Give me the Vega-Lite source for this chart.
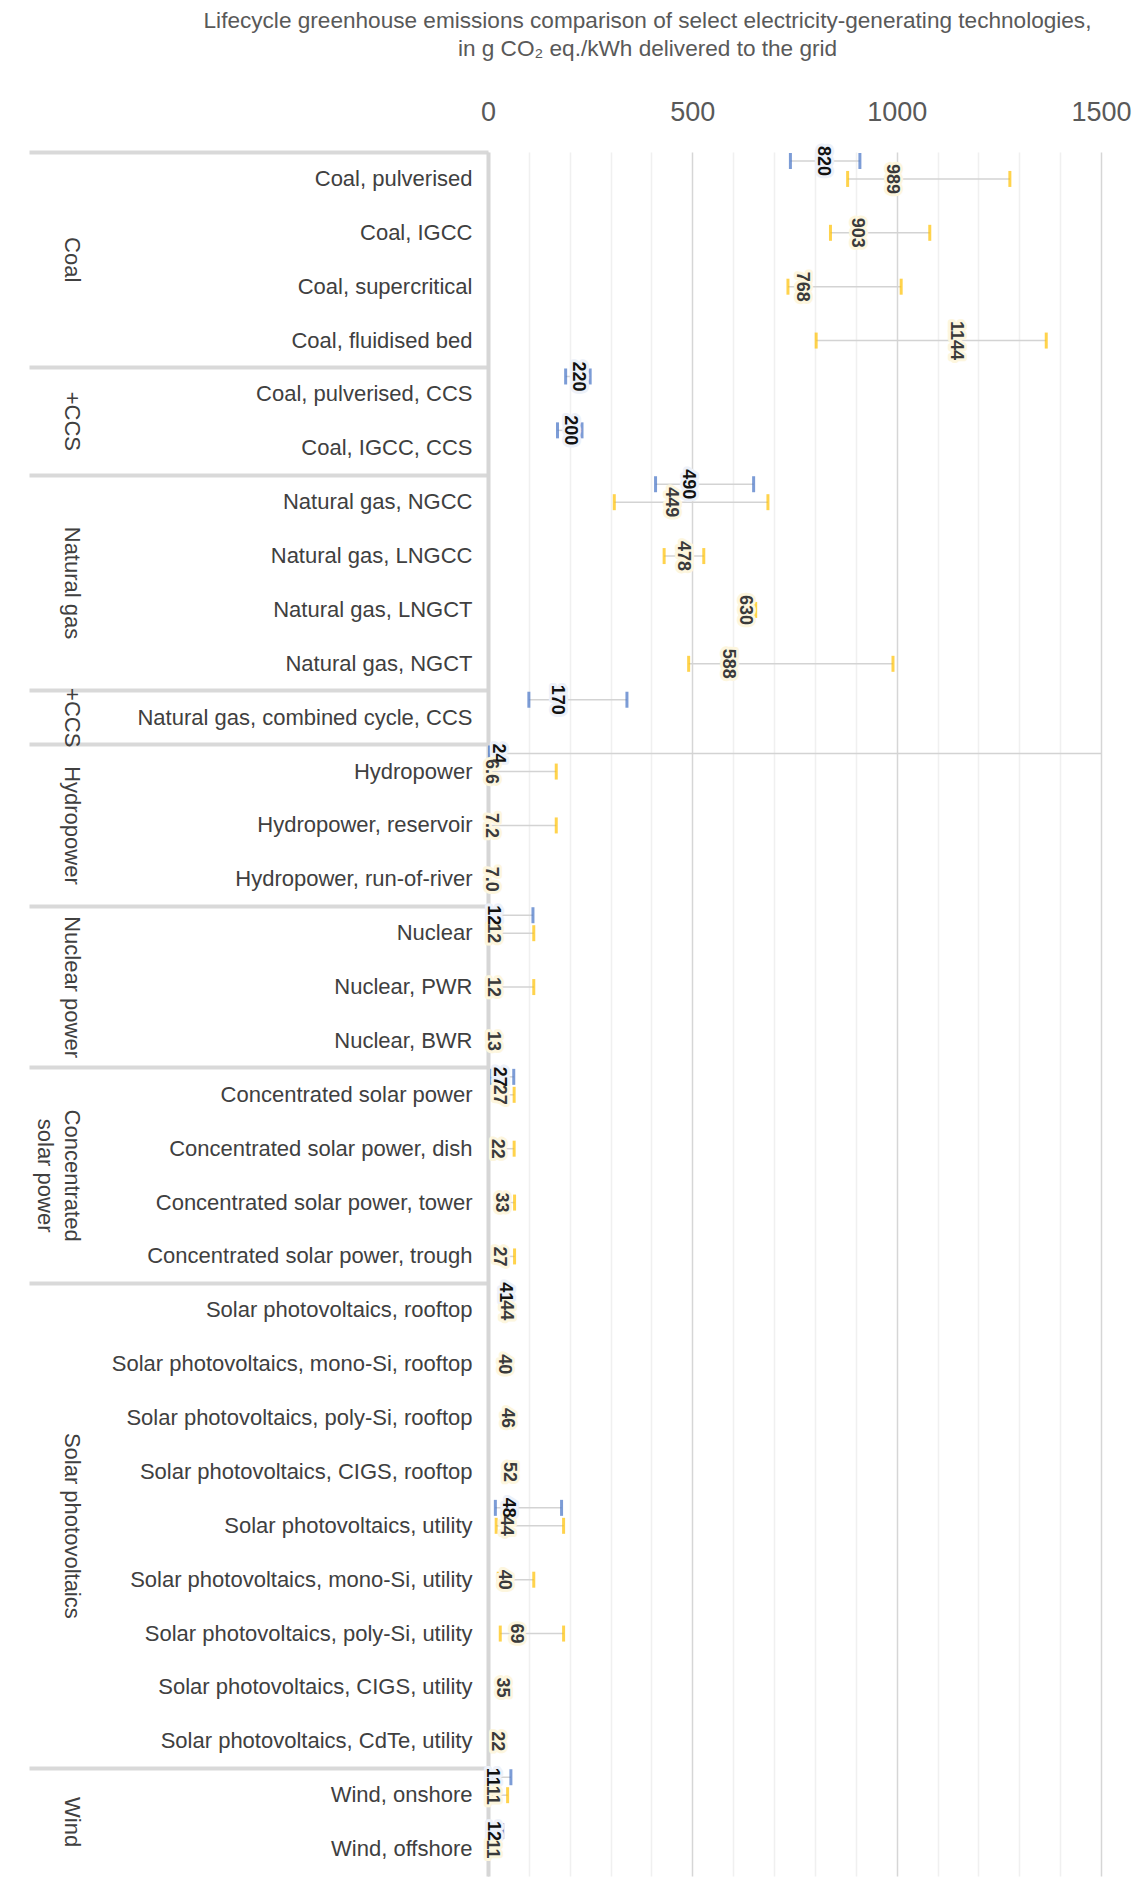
{
  "$schema": "https://vega.github.io/schema/vega-lite/v6.json",
  "width": 613,
  "height": 1724,
  "padding": {"left": 27, "top": 10, "right": 5, "bottom": 5},
  "config": {"view": {"stroke": null}},
  "title": {
    "text": ["Lifecycle greenhouse emissions comparison of select electricity-generating technologies,", "in g CO₂ eq./kWh delivered to the grid"],
    "anchor": "middle", "frame": "group", "dx": -147,
    "font": "Liberation Sans", "fontSize": 22.6, "fontWeight": "normal", "color": "#595959",
    "lineHeight": 28, "offset": 37
  },
  "data": {"values": [
    {"tech": "Coal, pulverised", "source": "IPCC", "min": 740, "med": 820, "max": 910, "label": "820"},
    {"tech": "Coal, pulverised", "source": "UNECE", "min": 880, "med": 989, "max": 1277, "label": "989"},
    {"tech": "Coal, IGCC", "source": "UNECE", "min": 838, "med": 903, "max": 1081, "label": "903"},
    {"tech": "Coal, supercritical", "source": "UNECE", "min": 734, "med": 768, "max": 1011, "label": "768"},
    {"tech": "Coal, fluidised bed", "source": "UNECE", "min": 803, "med": 1144, "max": 1366, "label": "1144"},
    {"tech": "Coal, pulverised, CCS", "source": "IPCC", "min": 190, "med": 220, "max": 250, "label": "220"},
    {"tech": "Coal, IGCC, CCS", "source": "IPCC", "min": 170, "med": 200, "max": 230, "label": "200"},
    {"tech": "Natural gas, NGCC", "source": "IPCC", "min": 410, "med": 490, "max": 650, "label": "490"},
    {"tech": "Natural gas, NGCC", "source": "UNECE", "min": 309, "med": 449, "max": 685, "label": "449"},
    {"tech": "Natural gas, LNGCC", "source": "UNECE", "min": 431, "med": 478, "max": 528, "label": "478"},
    {"tech": "Natural gas, LNGCT", "source": "UNECE", "min": 627, "med": 630, "max": 655, "label": "630"},
    {"tech": "Natural gas, NGCT", "source": "UNECE", "min": 491, "med": 588, "max": 991, "label": "588"},
    {"tech": "Natural gas, combined cycle, CCS", "source": "IPCC", "min": 100, "med": 170, "max": 340, "label": "170"},
    {"tech": "Hydropower", "source": "IPCC", "min": 1, "med": 24, "max": 2200, "label": "24"},
    {"tech": "Hydropower", "source": "UNECE", "min": 1, "med": 6.6, "max": 167, "label": "6.6"},
    {"tech": "Hydropower, reservoir", "source": "UNECE", "min": 1, "med": 7.2, "max": 167, "label": "7.2"},
    {"tech": "Hydropower, run-of-river", "source": "UNECE", "min": null, "med": 7.0, "max": null, "label": "7.0"},
    {"tech": "Nuclear", "source": "IPCC", "min": 3.7, "med": 12, "max": 110, "label": "12"},
    {"tech": "Nuclear", "source": "UNECE", "min": 5, "med": 12, "max": 112, "label": "12"},
    {"tech": "Nuclear, PWR", "source": "UNECE", "min": 5, "med": 12, "max": 112, "label": "12"},
    {"tech": "Nuclear, BWR", "source": "UNECE", "min": null, "med": 13, "max": null, "label": "13"},
    {"tech": "Concentrated solar power", "source": "IPCC", "min": 8.8, "med": 27, "max": 63, "label": "27"},
    {"tech": "Concentrated solar power", "source": "UNECE", "min": 20, "med": 27, "max": 64, "label": "27"},
    {"tech": "Concentrated solar power, dish", "source": "UNECE", "min": 15, "med": 22, "max": 64, "label": "22"},
    {"tech": "Concentrated solar power, tower", "source": "UNECE", "min": 25, "med": 33, "max": 65, "label": "33"},
    {"tech": "Concentrated solar power, trough", "source": "UNECE", "min": 20, "med": 27, "max": 65, "label": "27"},
    {"tech": "Solar photovoltaics, rooftop", "source": "IPCC", "min": null, "med": 41, "max": null, "label": "41"},
    {"tech": "Solar photovoltaics, rooftop", "source": "UNECE", "min": null, "med": 44, "max": null, "label": "44"},
    {"tech": "Solar photovoltaics, mono-Si, rooftop", "source": "UNECE", "min": null, "med": 40, "max": null, "label": "40"},
    {"tech": "Solar photovoltaics, poly-Si, rooftop", "source": "UNECE", "min": null, "med": 46, "max": null, "label": "46"},
    {"tech": "Solar photovoltaics, CIGS, rooftop", "source": "UNECE", "min": null, "med": 52, "max": null, "label": "52"},
    {"tech": "Solar photovoltaics, utility", "source": "IPCC", "min": 18, "med": 48, "max": 180, "label": "48"},
    {"tech": "Solar photovoltaics, utility", "source": "UNECE", "min": 20, "med": 44, "max": 185, "label": "44"},
    {"tech": "Solar photovoltaics, mono-Si, utility", "source": "UNECE", "min": 25, "med": 40, "max": 112, "label": "40"},
    {"tech": "Solar photovoltaics, poly-Si, utility", "source": "UNECE", "min": 30, "med": 69, "max": 185, "label": "69"},
    {"tech": "Solar photovoltaics, CIGS, utility", "source": "UNECE", "min": null, "med": 35, "max": null, "label": "35"},
    {"tech": "Solar photovoltaics, CdTe, utility", "source": "UNECE", "min": null, "med": 22, "max": null, "label": "22"},
    {"tech": "Wind, onshore", "source": "IPCC", "min": 7, "med": 11, "max": 56, "label": "11"},
    {"tech": "Wind, onshore", "source": "UNECE", "min": 8, "med": 11, "max": 48, "label": "11"},
    {"tech": "Wind, offshore", "source": "IPCC", "min": 8, "med": 12, "max": 36, "label": "12"},
    {"tech": "Wind, offshore", "source": "UNECE", "min": null, "med": 11, "max": null, "label": "11"}
  ]},
  "resolve": {"axis": {"y": "independent"}},
  "layer": [
    {
      "transform": [{"filter": "isValid(datum.min) && isValid(datum.max)"}],
      "mark": {"type": "rule", "clip": true, "color": "#d3d3d3", "strokeWidth": 1.5},
      "encoding": {
        "x": {"field": "min", "type": "quantitative", "scale": {"domain": [0, 1500], "nice": false},
          "axis": {"orient": "top", "values": [0,100,200,300,400,500,600,700,800,900,1000,1100,1200,1300,1400,1500],
            "labelExpr": "datum.value % 500 === 0 ? datum.label : ''", "format": "d", "title": null,
            "domain": false, "ticks": false, "tickSize": 0, "labelPadding": 26, "labelFlush": false, "labelOverlap": false,
            "labelFont": "Liberation Sans", "labelFontSize": 27, "labelColor": "#595959",
            "grid": true, "gridWidth": 1.5,
            "gridColor": {"condition": {"test": "datum.value % 500 === 0", "value": "#d6d6d6"}, "value": "#f0f0f0"}}},
        "x2": {"field": "max"},
        "y": {"field": "tech", "type": "nominal", "sort": null,
          "scale": {"domain": ["Coal, pulverised","Coal, IGCC","Coal, supercritical","Coal, fluidised bed","Coal, pulverised, CCS","Coal, IGCC, CCS","Natural gas, NGCC","Natural gas, LNGCC","Natural gas, LNGCT","Natural gas, NGCT","Natural gas, combined cycle, CCS","Hydropower","Hydropower, reservoir","Hydropower, run-of-river","Nuclear","Nuclear, PWR","Nuclear, BWR","Concentrated solar power","Concentrated solar power, dish","Concentrated solar power, tower","Concentrated solar power, trough","Solar photovoltaics, rooftop","Solar photovoltaics, mono-Si, rooftop","Solar photovoltaics, poly-Si, rooftop","Solar photovoltaics, CIGS, rooftop","Solar photovoltaics, utility","Solar photovoltaics, mono-Si, utility","Solar photovoltaics, poly-Si, utility","Solar photovoltaics, CIGS, utility","Solar photovoltaics, CdTe, utility","Wind, onshore","Wind, offshore"], "paddingInner": 0, "paddingOuter": 0},
          "axis": {"orient": "left", "title": null, "values": ["Coal, pulverised","Coal, pulverised, CCS","Natural gas, NGCC","Natural gas, combined cycle, CCS","Hydropower","Nuclear","Concentrated solar power","Solar photovoltaics, rooftop","Wind, onshore"],
            "bandPosition": 0, "labels": false, "domain": false, "ticks": true, "tickSize": 459, "tickWidth": 4, "tickColor": "#d9d9d9", "grid": false, "zindex": 0}},
        "yOffset": {"field": "source", "type": "nominal", "scale": {"domain": ["IPCC", "UNECE", "none"], "paddingInner": 0, "paddingOuter": 0}}
      }
    },
    {
      "transform": [{"filter": "isValid(datum.min)"}],
      "mark": {"type": "tick", "clip": true, "thickness": 3, "size": 16},
      "encoding": {
        "x": {"field": "min", "type": "quantitative", "scale": {"domain": [0, 1500], "nice": false},
          "axis": {"orient": "top", "values": [0,100,200,300,400,500,600,700,800,900,1000,1100,1200,1300,1400,1500],
            "labelExpr": "datum.value % 500 === 0 ? datum.label : ''", "format": "d", "title": null,
            "domain": false, "ticks": false, "tickSize": 0, "labelPadding": 26, "labelFlush": false, "labelOverlap": false,
            "labelFont": "Liberation Sans", "labelFontSize": 27, "labelColor": "#595959",
            "grid": true, "gridWidth": 1.5,
            "gridColor": {"condition": {"test": "datum.value % 500 === 0", "value": "#d6d6d6"}, "value": "#f0f0f0"}}},
        "y": {"field": "tech", "type": "nominal", "sort": null,
          "scale": {"domain": ["Coal, pulverised","Coal, IGCC","Coal, supercritical","Coal, fluidised bed","Coal, pulverised, CCS","Coal, IGCC, CCS","Natural gas, NGCC","Natural gas, LNGCC","Natural gas, LNGCT","Natural gas, NGCT","Natural gas, combined cycle, CCS","Hydropower","Hydropower, reservoir","Hydropower, run-of-river","Nuclear","Nuclear, PWR","Nuclear, BWR","Concentrated solar power","Concentrated solar power, dish","Concentrated solar power, tower","Concentrated solar power, trough","Solar photovoltaics, rooftop","Solar photovoltaics, mono-Si, rooftop","Solar photovoltaics, poly-Si, rooftop","Solar photovoltaics, CIGS, rooftop","Solar photovoltaics, utility","Solar photovoltaics, mono-Si, utility","Solar photovoltaics, poly-Si, utility","Solar photovoltaics, CIGS, utility","Solar photovoltaics, CdTe, utility","Wind, onshore","Wind, offshore"], "paddingInner": 0, "paddingOuter": 0},
          "axis": {"orient": "left", "title": null, "values": ["Coal, supercritical","Coal, IGCC, CCS","Natural gas, LNGCT","Concentrated solar power, tower","Wind, offshore"],
            "labelExpr": "datum.value == 'Coal, supercritical' ? 'Coal' : datum.value == 'Coal, IGCC, CCS' ? '+CCS' : datum.value == 'Natural gas, LNGCT' ? 'Natural gas' : datum.value == 'Concentrated solar power, tower' ? ['Concentrated', 'solar power'] : datum.value == 'Wind, offshore' ? 'Wind' : ''",
            "ticks": false, "tickSize": 0, "domain": false, "grid": false,
            "labelAngle": 90, "labelAlign": "center", "labelBaseline": "middle", "labelPadding": 417, "labelOffset": -26.94,
            "labelLineHeight": 27, "labelFont": "Liberation Sans", "labelFontSize": 22, "labelColor": "#404040", "labelLimit": 480, "labelOverlap": false}},
        "yOffset": {"field": "source", "type": "nominal", "scale": {"domain": ["IPCC", "UNECE", "none"], "paddingInner": 0, "paddingOuter": 0}},
        "color": {"field": "source", "type": "nominal", "scale": {"domain": ["IPCC", "UNECE"], "range": ["#4472C4", "#FFC000"]}, "legend": null}
      }
    },
    {
      "transform": [{"filter": "isValid(datum.max)"}],
      "mark": {"type": "tick", "clip": true, "thickness": 3, "size": 16},
      "encoding": {
        "x": {"field": "max", "type": "quantitative", "scale": {"domain": [0, 1500], "nice": false},
          "axis": {"orient": "top", "values": [0,100,200,300,400,500,600,700,800,900,1000,1100,1200,1300,1400,1500],
            "labelExpr": "datum.value % 500 === 0 ? datum.label : ''", "format": "d", "title": null,
            "domain": false, "ticks": false, "tickSize": 0, "labelPadding": 26, "labelFlush": false, "labelOverlap": false,
            "labelFont": "Liberation Sans", "labelFontSize": 27, "labelColor": "#595959",
            "grid": true, "gridWidth": 1.5,
            "gridColor": {"condition": {"test": "datum.value % 500 === 0", "value": "#d6d6d6"}, "value": "#f0f0f0"}}},
        "y": {"field": "tech", "type": "nominal", "sort": null,
          "scale": {"domain": ["Coal, pulverised","Coal, IGCC","Coal, supercritical","Coal, fluidised bed","Coal, pulverised, CCS","Coal, IGCC, CCS","Natural gas, NGCC","Natural gas, LNGCC","Natural gas, LNGCT","Natural gas, NGCT","Natural gas, combined cycle, CCS","Hydropower","Hydropower, reservoir","Hydropower, run-of-river","Nuclear","Nuclear, PWR","Nuclear, BWR","Concentrated solar power","Concentrated solar power, dish","Concentrated solar power, tower","Concentrated solar power, trough","Solar photovoltaics, rooftop","Solar photovoltaics, mono-Si, rooftop","Solar photovoltaics, poly-Si, rooftop","Solar photovoltaics, CIGS, rooftop","Solar photovoltaics, utility","Solar photovoltaics, mono-Si, utility","Solar photovoltaics, poly-Si, utility","Solar photovoltaics, CIGS, utility","Solar photovoltaics, CdTe, utility","Wind, onshore","Wind, offshore"], "paddingInner": 0, "paddingOuter": 0},
          "axis": {"orient": "left", "title": null, "values": ["Natural gas, combined cycle, CCS","Hydropower, reservoir","Nuclear, PWR","Solar photovoltaics, utility"],
            "labelExpr": "datum.value == 'Natural gas, combined cycle, CCS' ? '+CCS' : datum.value == 'Hydropower, reservoir' ? 'Hydropower' : datum.value == 'Nuclear, PWR' ? 'Nuclear power' : datum.value == 'Solar photovoltaics, utility' ? 'Solar photovoltaics' : ''",
            "ticks": false, "tickSize": 0, "domain": false, "grid": false,
            "labelAngle": 90, "labelAlign": "center", "labelBaseline": "middle", "labelPadding": 417,
            "labelFont": "Liberation Sans", "labelFontSize": 22, "labelColor": "#404040", "labelLimit": 480, "labelOverlap": false}},
        "yOffset": {"field": "source", "type": "nominal", "scale": {"domain": ["IPCC", "UNECE", "none"], "paddingInner": 0, "paddingOuter": 0}},
        "color": {"field": "source", "type": "nominal", "scale": {"domain": ["IPCC", "UNECE"], "range": ["#4472C4", "#FFC000"]}, "legend": null}
      }
    },
    {
      "mark": {"type": "text", "font": "Liberation Sans", "fontSize": 18, "fontWeight": "bold", "angle": 90, "align": "center", "baseline": "middle", "strokeWidth": 6, "strokeJoin": "round", "fill": "#ffffff"},
      "encoding": {
        "x": {"field": "med", "type": "quantitative", "scale": {"domain": [0, 1500], "nice": false},
          "axis": {"orient": "top", "values": [0,100,200,300,400,500,600,700,800,900,1000,1100,1200,1300,1400,1500],
            "labelExpr": "datum.value % 500 === 0 ? datum.label : ''", "format": "d", "title": null,
            "domain": false, "ticks": false, "tickSize": 0, "labelPadding": 26, "labelFlush": false, "labelOverlap": false,
            "labelFont": "Liberation Sans", "labelFontSize": 27, "labelColor": "#595959",
            "grid": true, "gridWidth": 1.5,
            "gridColor": {"condition": {"test": "datum.value % 500 === 0", "value": "#d6d6d6"}, "value": "#f0f0f0"}}},
        "y": {"field": "tech", "type": "nominal", "sort": null,
          "scale": {"domain": ["Coal, pulverised","Coal, IGCC","Coal, supercritical","Coal, fluidised bed","Coal, pulverised, CCS","Coal, IGCC, CCS","Natural gas, NGCC","Natural gas, LNGCC","Natural gas, LNGCT","Natural gas, NGCT","Natural gas, combined cycle, CCS","Hydropower","Hydropower, reservoir","Hydropower, run-of-river","Nuclear","Nuclear, PWR","Nuclear, BWR","Concentrated solar power","Concentrated solar power, dish","Concentrated solar power, tower","Concentrated solar power, trough","Solar photovoltaics, rooftop","Solar photovoltaics, mono-Si, rooftop","Solar photovoltaics, poly-Si, rooftop","Solar photovoltaics, CIGS, rooftop","Solar photovoltaics, utility","Solar photovoltaics, mono-Si, utility","Solar photovoltaics, poly-Si, utility","Solar photovoltaics, CIGS, utility","Solar photovoltaics, CdTe, utility","Wind, onshore","Wind, offshore"], "paddingInner": 0, "paddingOuter": 0},
          "axis": null},
        "yOffset": {"field": "source", "type": "nominal", "scale": {"domain": ["IPCC", "UNECE", "none"], "paddingInner": 0, "paddingOuter": 0}},
        "stroke": {"field": "source", "type": "nominal", "scale": {"domain": ["IPCC", "UNECE"], "range": ["#edf1f9", "#fdf6de"]}, "legend": null},
        "text": {"field": "label", "type": "nominal"}
      }
    },
    {
      "mark": {"type": "text", "font": "Liberation Sans", "fontSize": 18, "fontWeight": "bold", "angle": 90, "align": "center", "baseline": "middle"},
      "encoding": {
        "x": {"field": "med", "type": "quantitative", "scale": {"domain": [0, 1500], "nice": false},
          "axis": {"orient": "top", "values": [0,100,200,300,400,500,600,700,800,900,1000,1100,1200,1300,1400,1500],
            "labelExpr": "datum.value % 500 === 0 ? datum.label : ''", "format": "d", "title": null,
            "domain": false, "ticks": false, "tickSize": 0, "labelPadding": 26, "labelFlush": false, "labelOverlap": false,
            "labelFont": "Liberation Sans", "labelFontSize": 27, "labelColor": "#595959",
            "grid": true, "gridWidth": 1.5,
            "gridColor": {"condition": {"test": "datum.value % 500 === 0", "value": "#d6d6d6"}, "value": "#f0f0f0"}}},
        "y": {"field": "tech", "type": "nominal", "sort": null,
          "scale": {"domain": ["Coal, pulverised","Coal, IGCC","Coal, supercritical","Coal, fluidised bed","Coal, pulverised, CCS","Coal, IGCC, CCS","Natural gas, NGCC","Natural gas, LNGCC","Natural gas, LNGCT","Natural gas, NGCT","Natural gas, combined cycle, CCS","Hydropower","Hydropower, reservoir","Hydropower, run-of-river","Nuclear","Nuclear, PWR","Nuclear, BWR","Concentrated solar power","Concentrated solar power, dish","Concentrated solar power, tower","Concentrated solar power, trough","Solar photovoltaics, rooftop","Solar photovoltaics, mono-Si, rooftop","Solar photovoltaics, poly-Si, rooftop","Solar photovoltaics, CIGS, rooftop","Solar photovoltaics, utility","Solar photovoltaics, mono-Si, utility","Solar photovoltaics, poly-Si, utility","Solar photovoltaics, CIGS, utility","Solar photovoltaics, CdTe, utility","Wind, onshore","Wind, offshore"], "paddingInner": 0, "paddingOuter": 0},
          "axis": {"orient": "left", "title": null, "ticks": false, "tickSize": 0, "domain": true, "domainColor": "#d6d6d6", "domainWidth": 4,
            "labelPadding": 16, "labelFont": "Liberation Sans", "labelFontSize": 22, "labelColor": "#404040", "labelLimit": 480, "labelOverlap": false, "grid": false, "zindex": 0}},
        "yOffset": {"field": "source", "type": "nominal", "scale": {"domain": ["IPCC", "UNECE", "none"], "paddingInner": 0, "paddingOuter": 0}},
        "fill": {"field": "source", "type": "nominal", "scale": {"domain": ["IPCC", "UNECE"], "range": ["#111111", "#3a3a3a"]}, "legend": null},
        "text": {"field": "label", "type": "nominal"}
      }
    }
  ]
}
